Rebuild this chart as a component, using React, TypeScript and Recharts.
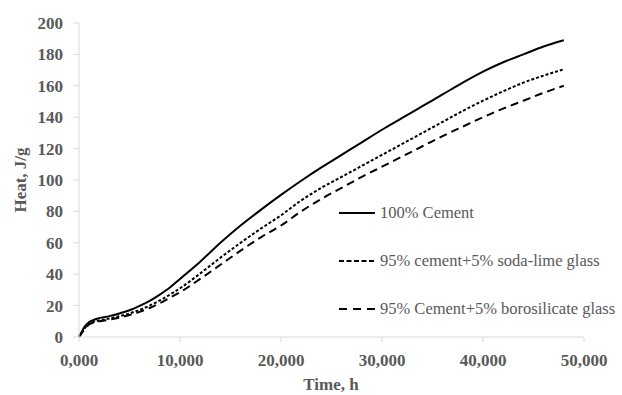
import React from "react"
import { LineChart, Line, XAxis, YAxis, Legend, Label } from "recharts"

const hours = [
  0, 250, 500, 750, 1000, 1500, 2000, 3000, 4000, 5000, 6000, 7000, 8000, 9000, 10000,
  12000, 14000, 16000, 18000, 20000, 22000, 24000, 26000, 28000, 30000, 32000, 34000,
  36000, 38000, 40000, 42000, 44000, 46000, 48000,
]
const cement = [
  0, 3, 6, 8, 9.5, 11, 12, 13.3, 15, 17, 19.8, 23, 27, 31.5, 37,
  48, 60, 71, 81, 90.5, 99.5, 108, 116, 124, 132, 139.5, 147,
  154.5, 162, 169, 175, 180, 185, 189,
]
const sodaLime = [
  0, 2.5, 5, 7, 8.5, 9.8, 10.5, 11.8, 13.2, 15, 17.3, 20, 23.3, 27, 31,
  40.5, 50.5, 60, 69, 77.5, 87, 95, 102, 109, 116, 123, 130,
  137, 144, 150.5, 156.5, 162, 166.5, 170.5,
]
const borosilicate = [
  0, 2.3, 4.5, 6.5, 8, 9.3, 10, 11, 12.3, 14, 16, 18.5, 21.5, 25, 28.5,
  37, 46, 55, 63.5, 71, 80, 88, 95, 102, 108.5, 115, 121.5,
  128, 134, 140, 145.5, 150.5, 155.5, 160,
]
const xTicks = [0, 10000, 20000, 30000, 40000, 50000]
const yTicks = [0, 20, 40, 60, 80, 100, 120, 140, 160, 180, 200]

const series = [
  { key: "cement", name: "100% Cement", dash: undefined, legendDash: undefined },
  { key: "sodaLime", name: "95% cement+5% soda-lime glass", dash: "3 2", legendDash: "5 2.5" },
  { key: "borosilicate", name: "95% Cement+5% borosilicate glass", dash: "8 5", legendDash: "8 6" },
]

const FONT = "'Liberation Serif', serif"
const GREY = "#595959"
const AXIS = "#d9d9d9"

const data = hours.map((t, i) => ({
  t,
  cement: cement[i],
  sodaLime: sodaLime[i],
  borosilicate: borosilicate[i],
}))

const boldText = { fontFamily: FONT, fontSize: 17, fontWeight: 700, fill: GREY }

function fmtHours(v: number) {
  return v === 0 ? "0,000" : v.toLocaleString("en-US")
}

const renderXTick = (p: any) => (
  <text x={p.x} y={p.y} dy="0.71em" textAnchor="middle" style={boldText}>
    {fmtHours(p.payload.value)}
  </text>
)

const renderYTick = (p: any) => (
  <text x={p.x} y={p.y} dy="0.355em" textAnchor="end" style={boldText}>
    {p.payload.value}
  </text>
)

function renderLegend() {
  return (
    <div style={{ fontFamily: FONT, fontSize: 16.5, color: GREY }}>
      {series.map((s) => (
        <div key={s.key} style={{ height: 48, display: "flex", alignItems: "center", whiteSpace: "nowrap" }}>
          <svg width={36} height={6} style={{ marginRight: 5 }}>
            <line x1={0} y1={3} x2={36} y2={3} stroke="#000" strokeWidth={2} strokeDasharray={s.legendDash} />
          </svg>
          <span style={{ fontFamily: FONT }}>{s.name}</span>
        </div>
      ))}
    </div>
  )
}

export default function App() {
  return (
    <div
      style={{ position: "absolute", left: 0, top: 0, width: 622, height: 395, background: "#fff", fontFamily: FONT }}
    >
      <LineChart
        width={622}
        height={395}
        data={data}
        margin={{ top: 23, right: 38, bottom: 0, left: 0 }}
        style={{ fontFamily: FONT }}
      >
        <XAxis
          dataKey="t"
          type="number"
          domain={[0, 50000]}
          ticks={xTicks}
          height={58}
          stroke={AXIS}
          tickSize={5}
          tickMargin={12}
          tick={renderXTick}
        >
          <Label
            content={() => (
              <text x={331} y={390} textAnchor="middle" style={boldText}>
                Time, h
              </text>
            )}
          />
        </XAxis>
        <YAxis
          type="number"
          domain={[0, 200]}
          ticks={yTicks}
          width={79}
          stroke={AXIS}
          tickSize={6}
          tickMargin={10}
          tick={renderYTick}
        >
          <Label
            content={() => (
              <text x={0} y={0} transform="translate(26 180) rotate(-90)" textAnchor="middle" style={boldText}>
                Heat, J/g
              </text>
            )}
          />
        </YAxis>
        <Legend
          layout="vertical"
          align="center"
          verticalAlign="middle"
          content={renderLegend}
          wrapperStyle={{ left: 339, top: 189, width: 290 }}
        />
        {series.map((s) => (
          <Line
            key={s.key}
            dataKey={s.key}
            name={s.name}
            type="monotone"
            stroke="#000"
            strokeWidth={2}
            strokeDasharray={s.dash}
            dot={false}
            isAnimationActive={false}
          />
        ))}
      </LineChart>
    </div>
  )
}
